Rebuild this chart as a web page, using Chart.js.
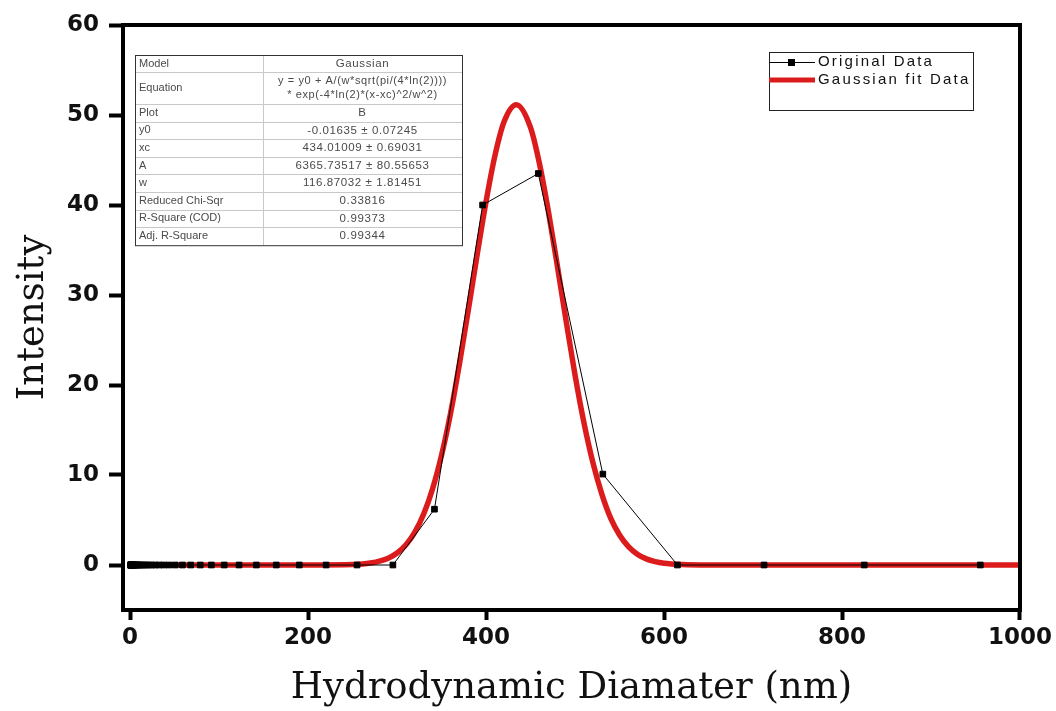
<!DOCTYPE html>
<html>
<head>
<meta charset="utf-8">
<script src="https://cdn.jsdelivr.net/npm/chart.js@4"></script>
<style>
  html, body { margin: 0; padding: 0; background: #fff; }
  #wrap { width: 1056px; height: 711px; position: relative; }
</style>
</head>
<body>
<div id="wrap"><canvas id="chart"></canvas></div>
<script>
/* size bins (nm) and measured intensity */
const sizes = [0.4, 0.4632, 0.5365, 0.6213, 0.7195, 0.8332, 0.9649, 1.117, 1.294, 1.499, 1.736, 2.01, 2.328, 2.696, 3.122, 3.615, 4.187, 4.849, 5.615, 6.503, 7.531, 8.721, 10.1, 11.7, 13.54, 15.69, 18.17, 21.04, 24.36, 28.21, 32.67, 37.84, 43.82, 50.75, 58.77, 68.06, 78.82, 91.28, 105.7, 122.4, 141.8, 164.2, 190.1, 220.2, 255.0, 295.3, 342.0, 396.1, 458.7, 531.2, 615.1, 712.4, 825.0, 955.4];
const intensity = [0, 0, 0, 0, 0, 0, 0, 0, 0, 0, 0, 0, 0, 0, 0, 0, 0, 0, 0, 0, 0, 0, 0, 0, 0, 0, 0, 0, 0, 0, 0, 0, 0, 0, 0, 0, 0, 0, 0, 0, 0, 0, 0, 0, 0, 0, 6.2, 40.0, 43.5, 10.1, 0, 0, 0, 0];

/* gaussian fit curve */
const fitX = [0, 200, 250, 270, 290, 300, 310, 320, 330, 340, 350, 360, 370, 380, 390, 400, 410, 420, 434, 450, 460, 470, 480, 490, 500, 510, 520, 530, 540, 550, 560, 570, 580, 590, 600, 620, 650, 1000];
const fitY = [0, 0, 0.05, 0.22, 0.76, 1.34, 2.26, 3.66, 5.69, 8.5, 12.2, 16.8, 22.3, 28.3, 34.5, 40.4, 45.5, 49.2, 51.15, 48.6, 44.6, 39.3, 33.3, 27.1, 21.1, 15.8, 11.4, 7.9, 5.2, 3.33, 2.04, 1.2, 0.68, 0.37, 0.19, 0.05, 0, 0];

const xTicks = [0, 200, 400, 600, 800, 1000];
const yTicks = [0, 10, 20, 30, 40, 50, 60];

const tableLabels = ["Model", "Equation", "Plot", "y0", "xc", "A", "w", "Reduced Chi-Sqr", "R-Square (COD)", "Adj. R-Square"];
const tableValues = ["Gaussian", "y = y0 + A/(w*sqrt(pi/(4*ln(2))))\n* exp(-4*ln(2)*(x-xc)^2/w^2)", "B", "-0.01635 \u00b1 0.07245", "434.01009 \u00b1 0.69031", "6365.73517 \u00b1 80.55653", "116.87032 \u00b1 1.81451", "0.33816", "0.99373", "0.99344"];

const legendNames = ["Original Data", "Gaussian fit Data"];

const RED = "#dc1c1c";

/* frame, fit table and legend */
const extras = {
  id: "extras",
  afterDatasetsDraw(chart) {
    const ctx = chart.ctx;
    const a = chart.chartArea;
    ctx.save();
    ctx.strokeStyle = "#000";
    ctx.lineWidth = 4;
    ctx.strokeRect(a.left, a.top, a.right - a.left, a.bottom - a.top);
    ctx.restore();
  },
  afterDraw(chart) {
    const ctx = chart.ctx;
    ctx.save();

    // table
    const tx0 = 135, tx1 = 263, tx2 = 462;
    const rowH = [17, 32, 17.6, 17.6, 17.6, 17.6, 17.6, 17.6, 17.6, 18];
    let y = 55;
    const rows = [];
    rowH.forEach(h => { rows.push([y, y + h]); y += h; });
    const bottom = y;
    ctx.fillStyle = "#fff";
    ctx.fillRect(tx0, 55, tx2 - tx0, bottom - 55);
    ctx.strokeStyle = "#c8c8c8";
    ctx.lineWidth = 1;
    rows.forEach((r, i) => {
      if (i > 0) {
        ctx.beginPath();
        ctx.moveTo(tx0, Math.round(r[0]) + 0.5);
        ctx.lineTo(tx2, Math.round(r[0]) + 0.5);
        ctx.stroke();
      }
    });
    ctx.beginPath();
    ctx.moveTo(tx1 + 0.5, 55);
    ctx.lineTo(tx1 + 0.5, bottom);
    ctx.stroke();
    ctx.strokeStyle = "#333";
    ctx.strokeRect(tx0 + 0.5, 55.5, tx2 - tx0, bottom - 55);

    ctx.fillStyle = "#4a4a4a";
    ctx.textBaseline = "middle";
    const cx = (tx1 + tx2) / 2;
    rows.forEach((r, i) => {
      const cy = (r[0] + r[1]) / 2;
      ctx.font = "11px 'Liberation Sans', Arial, sans-serif";
      ctx.letterSpacing = "0px";
      ctx.textAlign = "left";
      ctx.fillText(tableLabels[i], tx0 + 4, cy);
      ctx.textAlign = "center";
      ctx.letterSpacing = "0.6px";
      const lines = tableValues[i].split("\n");
      if (lines.length > 1) {
        ctx.font = "11px 'Liberation Sans', Arial, sans-serif";
        ctx.fillText(lines[0], cx, cy - 7);
        ctx.fillText(lines[1], cx, cy + 7);
      } else {
        ctx.font = "11.5px 'Liberation Sans', Arial, sans-serif";
        ctx.fillText(lines[0], cx, cy);
      }
    });

    // legend
    const lx0 = 769, ly0 = 52, lx1 = 973, ly1 = 110;
    ctx.letterSpacing = "0px";
    ctx.fillStyle = "#fff";
    ctx.fillRect(lx0, ly0, lx1 - lx0, ly1 - ly0);
    ctx.strokeStyle = "#222";
    ctx.lineWidth = 1;
    ctx.strokeRect(lx0 + 0.5, ly0 + 0.5, lx1 - lx0, ly1 - ly0);

    ctx.strokeStyle = "#000";
    ctx.beginPath();
    ctx.moveTo(lx0, 62.5);
    ctx.lineTo(815, 62.5);
    ctx.stroke();
    ctx.fillStyle = "#000";
    ctx.fillRect(788, 59, 7, 7);

    ctx.strokeStyle = RED;
    ctx.lineWidth = 5;
    ctx.beginPath();
    ctx.moveTo(lx0, 80);
    ctx.lineTo(815, 80);
    ctx.stroke();

    ctx.fillStyle = "#111";
    ctx.font = "15px 'Liberation Sans', Arial, sans-serif";
    ctx.letterSpacing = "2.2px";
    ctx.textAlign = "left";
    ctx.textBaseline = "middle";
    ctx.fillText(legendNames[0], 818, 62);
    ctx.fillText(legendNames[1], 818, 80);
    ctx.restore();
  }
};

const tickFont = { family: "'DejaVu Sans', sans-serif", size: 23, weight: "bold" };
const titleFont = { family: "'DejaVu Serif', serif", size: 37, weight: "normal" };

new Chart(document.getElementById("chart"), {
  type: "line",
  data: {
    datasets: [
      {
        label: legendNames[0],
        data: sizes.map((s, i) => ({ x: s, y: intensity[i] })),
        borderColor: "#000",
        backgroundColor: "#000",
        borderWidth: 1,
        pointStyle: "rect",
        pointRadius: 4,
        pointHoverRadius: 4,
        tension: 0,
        order: 0
      },
      {
        label: legendNames[1],
        data: fitX.map((v, i) => ({ x: v, y: fitY[i] })),
        borderColor: RED,
        backgroundColor: RED,
        borderWidth: 5.5,
        pointRadius: 0,
        cubicInterpolationMode: "monotone",
        order: 1
      }
    ]
  },
  options: {
    responsive: true,
    maintainAspectRatio: false,
    animation: false,
    layout: { padding: { top: 25, right: 36, left: 0, bottom: 0 } },
    plugins: {
      legend: { display: false },
      tooltip: { enabled: false }
    },
    scales: {
      x: {
        type: "linear",
        min: -8,
        max: 1000,
        afterBuildTicks: s => { s.ticks = xTicks.map(v => ({ value: v })); },
        afterFit: s => { s.height = 101; },
        grid: { drawOnChartArea: false, drawTicks: true, tickLength: 10, tickWidth: 4, tickColor: "#000" },
        border: { display: true, color: "#000", width: 4 },
        ticks: { color: "#111", font: tickFont, padding: 4, maxRotation: 0, callback: v => String(v) },
        title: { display: true, text: "Hydrodynamic Diamater (nm)", color: "#111", font: titleFont, padding: { top: 0, bottom: 0 } }
      },
      y: {
        min: -5,
        max: 60,
        afterBuildTicks: s => { s.ticks = yTicks.map(v => ({ value: v })); },
        afterFit: s => { s.width = 123; },
        grid: { drawOnChartArea: false, drawTicks: true, tickLength: 14, tickWidth: 4, tickColor: "#000" },
        border: { display: true, color: "#000", width: 4 },
        ticks: { color: "#111", font: tickFont, padding: 10 },
        title: { display: true, text: "Intensity", color: "#111", font: titleFont, padding: { top: 11, bottom: 0 } }
      }
    }
  },
  plugins: [extras]
});
</script>
</body>
</html>
